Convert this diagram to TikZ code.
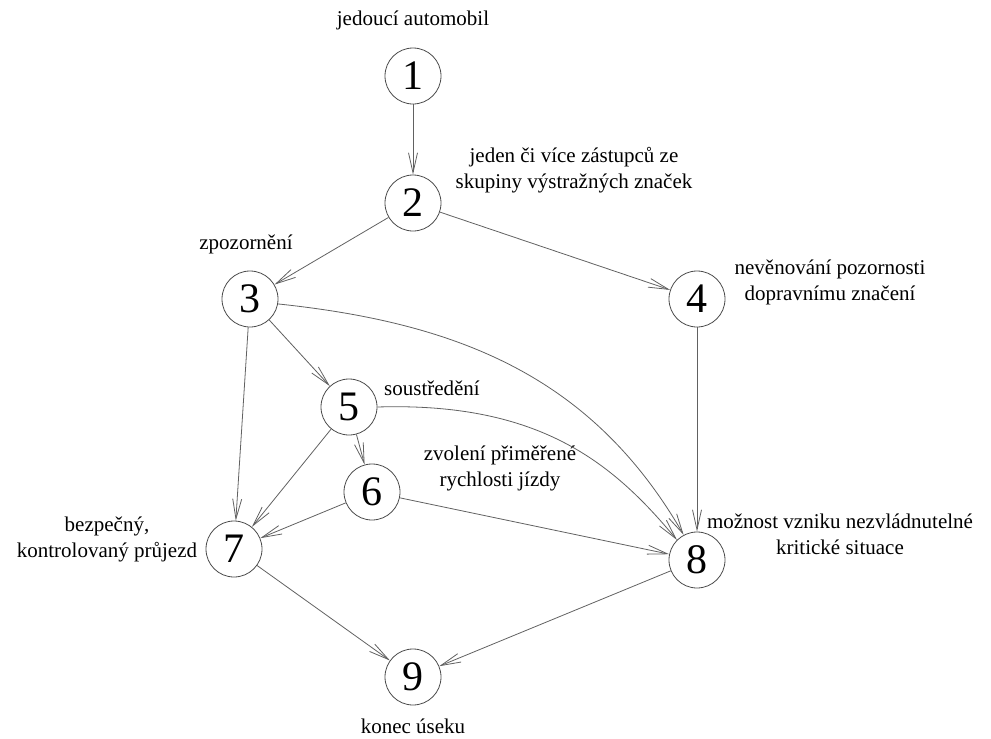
\documentclass[tikz,border=0pt]{standalone}
\usepackage{fontspec}
\setmainfont{Liberation Serif}
\usetikzlibrary{arrows.meta}
\begin{document}
\begin{tikzpicture}[x=1pt,y=-1pt,
  state/.style={circle,draw=black!70,line width=0.8pt,minimum size=56pt,inner sep=0pt,font=\fontsize{42}{42}\selectfont},
  lbl/.style={align=center,inner sep=0pt,font=\fontsize{21}{26}\selectfont},
  edge/.style={draw=black!62,line width=0.8pt,-{Straight Barb[length=20pt,width=9pt,line width=0.8pt]}}]
\useasboundingbox (0,0) rectangle (991,739);
\node[state] (n1) at (413,76) {1};
\node[state] (n2) at (413,203) {2};
\node[state] (n3) at (250,299) {3};
\node[state] (n4) at (697,299) {4};
\node[state] (n5) at (349,407) {5};
\node[state] (n6) at (372,492) {6};
\node[state] (n7) at (234,549) {7};
\node[state] (n8) at (697,560) {8};
\node[state] (n9) at (413,677) {9};

\node[lbl] (l1) at (413,20) {jedoucí automobil};
\node[lbl] (l2) at (574,170) {jeden či více zástupců ze\\skupiny výstražných značek};
\node[lbl] (l3) at (246,244) {zpozornění};
\node[lbl] (l4) at (830,282) {nevěnování pozornosti\\dopravnímu značení};
\node[lbl] (l5) at (432,388) {soustředění};
\node[lbl] (l6) at (500,468) {zvolení přiměřené\\rychlosti jízdy};
\node[lbl] (l7) at (107,539) {bezpečný,\\kontrolovaný průjezd};
\node[lbl] (l8) at (840,534) {možnost vzniku nezvládnutelné\\kritické situace};
\node[lbl] (l9) at (413,726) {konec úseku};

\draw[edge] (n1) -- (n2);
\draw[edge] (n2) -- (n3);
\draw[edge] (n2) -- (n4);
\draw[edge] (n3) -- (n5);
\draw[edge] (n3) -- (n7);
\draw[edge] (n3.-10) to[out=-6,in=120] (n8.118);
\draw[edge] (n4) -- (n8);
\draw[edge] (n5.0) .. controls (540,402) and (613,463) .. (n8.135);
\draw[edge] (n5) -- (n6);
\draw[edge] (n5) -- (n7);
\draw[edge] (n6) -- (n7);
\draw[edge] (n6) -- (n8);
\draw[edge] (n7) -- (n9);
\draw[edge] (n8) -- (n9);
\end{tikzpicture}
\end{document}
